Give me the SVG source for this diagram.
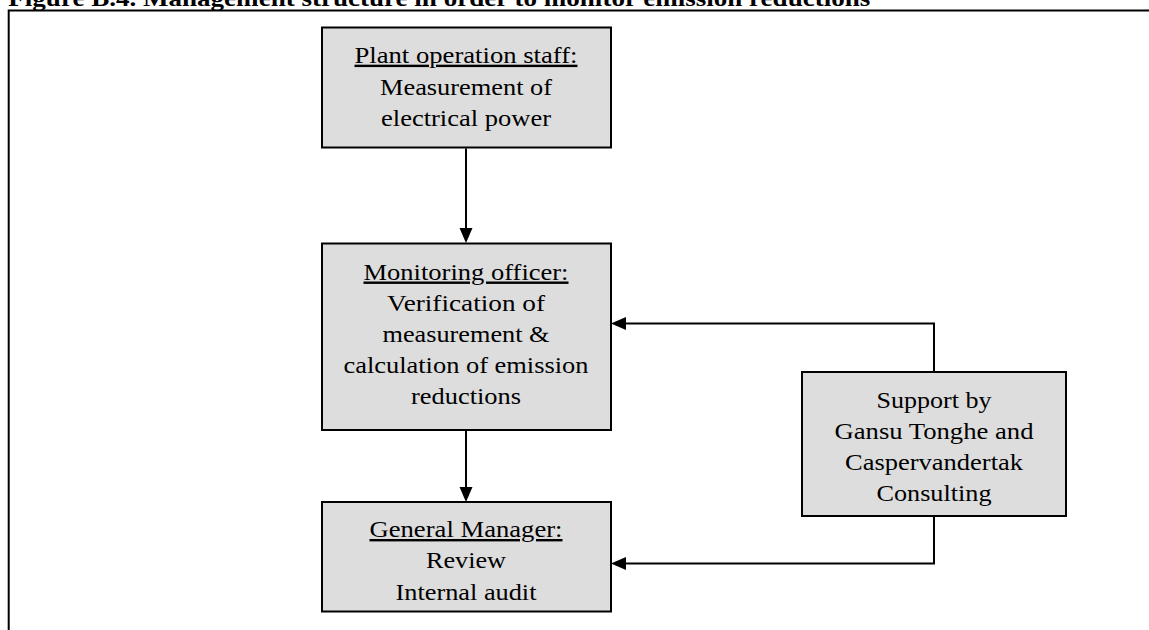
<svg xmlns="http://www.w3.org/2000/svg" width="1149" height="630" viewBox="0 0 1149 630">
<defs>
<style>
.box{fill:#dddddd;stroke:#000;stroke-width:2}
.t{font-family:"Liberation Serif","Times New Roman",serif;font-size:24px;fill:#000;text-anchor:middle}
.u{text-decoration:underline}
.c{fill:none;stroke:#000;stroke-width:2}
.frame{fill:none;stroke:#000;stroke-width:2}
.title{font-family:"Liberation Serif","Times New Roman",serif;font-size:24px;font-weight:bold;fill:#000}
</style>
<marker id="ah" markerUnits="userSpaceOnUse" markerWidth="16" markerHeight="14" refX="5" refY="6.5" orient="auto">
<path d="M0,0 L15,6.5 L0,13 Z" fill="#000"/>
</marker>
</defs>
<rect width="1149" height="630" fill="#fff"/>
<text class="title" x="8.3" y="6" textLength="862" lengthAdjust="spacingAndGlyphs">Figure B.4.  Management structure in order to monitor emission reductions</text>
<path class="frame" d="M8.7,630 V10.5 H1149"/>
<g id="connectors">
<path class="c" d="M466,148.5 V233" marker-end="url(#ah)"/>
<path class="c" d="M466,431 V492" marker-end="url(#ah)"/>
<path class="c" d="M934,372 V323.5 H621" marker-end="url(#ah)"/>
<path class="c" d="M934,516 V563.5 H621" marker-end="url(#ah)"/>
</g>
<g id="plant">
<rect class="box" x="322" y="27.5" width="289" height="120"/>
<text class="t u" x="466" y="62.7" textLength="223" lengthAdjust="spacingAndGlyphs">Plant operation staff:</text>
<text class="t" x="466" y="95" textLength="172" lengthAdjust="spacingAndGlyphs">Measurement of</text>
<text class="t" x="466" y="126" textLength="170" lengthAdjust="spacingAndGlyphs">electrical power</text>
</g>
<g id="monitoring">
<rect class="box" x="322" y="243.5" width="289" height="186.5"/>
<text class="t u" x="466" y="279.5" textLength="205" lengthAdjust="spacingAndGlyphs">Monitoring officer:</text>
<text class="t" x="466" y="311" textLength="158" lengthAdjust="spacingAndGlyphs">Verification of</text>
<text class="t" x="466" y="341.7" textLength="167" lengthAdjust="spacingAndGlyphs">measurement &amp;</text>
<text class="t" x="466" y="372.7" textLength="245" lengthAdjust="spacingAndGlyphs">calculation of emission</text>
<text class="t" x="466" y="404" textLength="110" lengthAdjust="spacingAndGlyphs">reductions</text>
</g>
<g id="manager">
<rect class="box" x="322" y="502" width="289" height="109.5"/>
<text class="t u" x="466" y="537" textLength="193" lengthAdjust="spacingAndGlyphs">General Manager:</text>
<text class="t" x="466" y="568" textLength="80" lengthAdjust="spacingAndGlyphs">Review</text>
<text class="t" x="466" y="599.5" textLength="141" lengthAdjust="spacingAndGlyphs">Internal audit</text>
</g>
<g id="support">
<rect class="box" x="802" y="372" width="264" height="144"/>
<text class="t" x="934" y="407.5" textLength="115" lengthAdjust="spacingAndGlyphs">Support by</text>
<text class="t" x="934" y="438.5" textLength="199" lengthAdjust="spacingAndGlyphs">Gansu Tonghe and</text>
<text class="t" x="934" y="469.5" textLength="178" lengthAdjust="spacingAndGlyphs">Caspervandertak</text>
<text class="t" x="934" y="501" textLength="115" lengthAdjust="spacingAndGlyphs">Consulting</text>
</g>
</svg>
